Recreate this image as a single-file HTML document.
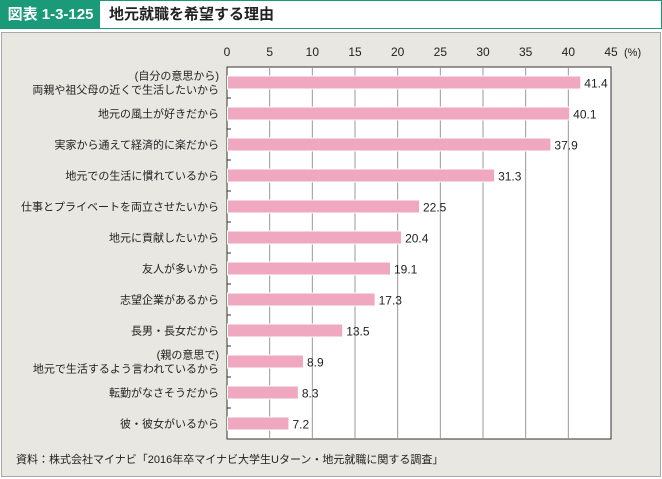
<!DOCTYPE html>
<html><head><meta charset="utf-8"><style>
body{margin:0;width:662px;height:479px;background:#fff;font-family:"Liberation Sans","Noto Sans CJK JP",sans-serif;overflow:hidden;position:relative}
#hdr{position:absolute;left:0;top:0;width:660px;height:27px;border:1px solid #1a9a78;background:#fff}
#tag{position:absolute;left:0;top:0;width:99px;height:27px;background:#1a9a78;color:#fff;font-weight:bold;font-size:15px;line-height:27px;text-align:center}
#ttl{position:absolute;left:108px;top:0;font-weight:bold;font-size:15px;line-height:27px;color:#222}
#panel{position:absolute;left:1px;top:32px;width:658px;height:443px;background:#e9e7e1;border:1px solid #a8a8a8}
svg{position:absolute;left:0;top:0}
</style></head><body>
<div id="hdr"><div id="tag">図表 1-3-125</div><div id="ttl">地元就職を希望する理由</div></div>
<div id="panel"></div>
<svg id="chart" width="662" height="479"></svg>
<script>
const categories=[["(自分の意思から)","両親や祖父母の近くで生活したいから"],["地元の風土が好きだから"],["実家から通えて経済的に楽だから"],["地元での生活に慣れているから"],["仕事とプライベートを両立させたいから"],["地元に貢献したいから"],["友人が多いから"],["志望企業があるから"],["長男・長女だから"],["(親の意思で)","地元で生活するよう言われているから"],["転勤がなさそうだから"],["彼・彼女がいるから"]];
const values=[41.4,40.1,37.9,31.3,22.5,20.4,19.1,17.3,13.5,8.9,8.3,7.2];
const valueLabels=["41.4","40.1","37.9","31.3","22.5","20.4","19.1","17.3","13.5","8.9","8.3","7.2"];
const ticks=[0,5,10,15,20,25,30,35,40,45];
const NS="http://www.w3.org/2000/svg";
const svg=document.getElementById('chart');
const X0=227,X1=611,Y0=67,Y1=439,XMAX=45;
const x=v=>X0+(v/XMAX)*(X1-X0);
const band=(Y1-Y0)/categories.length;
const y=i=>Y0+band*i+band/2;
function mk(t,a){const e=document.createElementNS(NS,t);for(const k in a)e.setAttribute(k,a[k]);svg.appendChild(e);return e;}
let r=mk('rect',{x:X0,y:Y0,width:X1-X0,height:Y1-Y0,fill:'#fff',stroke:'#333','stroke-width':1});

ticks.forEach(t=>{
 if(t>0&&t<XMAX){let l=mk('line',{x1:x(t),x2:x(t),y1:Y0,y2:Y1,stroke:'#999','stroke-width':1});
 }
 let tx=mk('text',{x:x(t),y:56,'text-anchor':'middle','font-size':12,fill:'#222'});tx.textContent=t;
 
});
let u=mk('text',{x:x(XMAX)+13,y:56,'font-size':11,fill:'#222'});u.textContent='(%)';

categories.forEach((c,i)=>{
 if(i>0){let tk=mk('line',{x1:X0,x2:X0+4,y1:Y0+band*i,y2:Y0+band*i,stroke:'#333'});
 }
 let b=mk('rect',{x:X0+0.5,y:y(i)-6.5,width:x(values[i])-X0,height:13,fill:'#f0a7c0',stroke:'#fff','stroke-width':1});
 
 let v=mk('text',{x:x(values[i])+4,y:y(i)+5,'font-size':12,fill:'#222'});v.textContent=valueLabels[i];
 
 c.forEach((s,j)=>{let t=mk('text',{x:X0-8,y:y(i)+4+(j-(c.length-1)/2)*14,'text-anchor':'end','font-size':11,fill:'#222'});t.textContent=s;
 });
});
let src=mk('text',{x:16,y:463,'font-size':11,fill:'#222'});src.textContent='資料：株式会社マイナビ「2016年卒マイナビ大学生Uターン・地元就職に関する調査」';

</script>
</body></html>
